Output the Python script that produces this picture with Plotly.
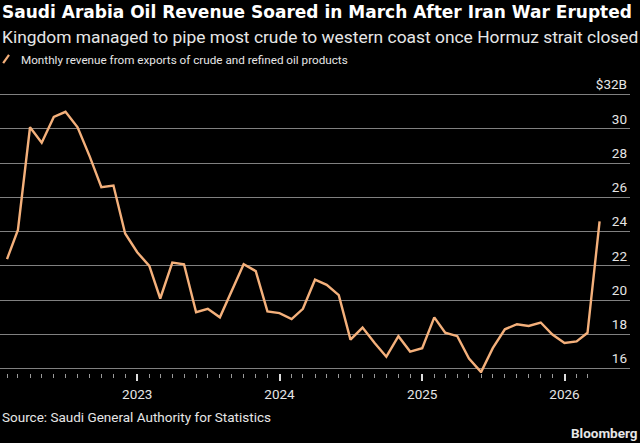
import plotly.graph_objects as go
import pandas as pd

# monthly revenue, $B, Jan 2022 .. Mar 2026
months = pd.date_range("2022-01", "2026-03", freq="MS")
revenue = [
    22.4, 24.1, 30.1, 29.2, 30.7, 31.0, 30.1, 28.4, 26.6, 26.7, 23.9, 22.8,
    22.0, 20.1, 22.2, 22.1, 19.3, 19.5, 19.0, 20.6, 22.1, 21.7, 19.35, 19.25,
    18.9, 19.5, 21.2, 20.9, 20.3, 17.7, 18.4, 17.5, 16.7, 17.9, 17.0, 17.2,
    19.0, 18.1, 17.9, 16.6, 15.8, 17.2, 18.3, 18.6, 18.5, 18.7, 18.0, 17.5,
    17.6, 18.1, 24.6,
]
y_ticks = [16, 18, 20, 22, 24, 26, 28, 30, 32]
y_labels = ["16", "18", "20", "22", "24", "26", "28", "30", "$32B"]
year_ticks = ["2023-01-01", "2024-01-01", "2025-01-01", "2026-01-01"]
year_labels = ["2023", "2024", "2025", "2026"]

# values are plotted at month end
x = months + pd.offsets.MonthBegin(1)

title = "Saudi Arabia Oil Revenue Soared in March After Iran War Erupted"
subtitle = "Kingdom managed to pipe most crude to western coast once Hormuz strait closed"
legend_text = "Monthly revenue from exports of crude and refined oil products"
source = "Source: Saudi General Authority for Statistics"

ORANGE = "#f4b07b"
GRID = "#808080"
TEXT = "#e6e6e6"

fig = go.Figure()
fig.add_trace(go.Scatter(x=x, y=revenue, mode="lines",
                         line=dict(color=ORANGE, width=2.4),
                         showlegend=False, hoverinfo="skip"))

fig.update_layout(
    width=640, height=443,
    margin=dict(l=0, r=10, t=93, b=70),
    paper_bgcolor="black", plot_bgcolor="black",
    font=dict(family="Roboto", color=TEXT, size=13),
    xaxis=dict(
        range=["2022-01-14", "2026-06-18"],
        showgrid=False, zeroline=False, showline=False,
        tickmode="array", tickvals=year_ticks, ticktext=year_labels,
        ticks="outside", ticklen=7, tickwidth=1.5, tickcolor="#dddddd",
        ticklabelstandoff=2,
        tickfont=dict(family="Roboto", size=13.5, color=TEXT),
        minor=dict(tickmode="array",
                   tickvals=list(pd.date_range("2022-02", "2026-03", freq="MS")),
                   ticks="outside", ticklen=4, tickwidth=1, tickcolor="#9a9a9a"),
    ),
    yaxis=dict(
        range=[15.75, 32.1], side="right",
        tickmode="array", tickvals=y_ticks, ticktext=y_labels,
        showgrid=True, gridcolor=GRID, gridwidth=1,
        zeroline=False, showline=False, ticks="",
        ticklabelposition="inside", ticklabelshift=-10, ticklabelstandoff=0,
        ticklabeloverflow="allow",
        tickfont=dict(family="Roboto", size=13.5, color=TEXT),
    ),
)

fig.add_annotation(text="<b>" + title + "</b>", x=0, y=1.289, xref="paper", yref="paper",
                   xanchor="left", yanchor="middle", showarrow=False,
                   font=dict(family="DejaVu Sans", size=17, color="white"))
fig.add_annotation(text=subtitle, x=0, y=1.2, xref="paper", yref="paper",
                   xanchor="left", yanchor="middle", showarrow=False,
                   font=dict(family="Roboto", size=17.4, color=TEXT))
fig.add_annotation(text=legend_text, x=0.03, y=1.118, xref="paper", yref="paper",
                   xanchor="left", yanchor="middle", showarrow=False,
                   font=dict(family="Roboto", size=11.7, color=TEXT))
fig.add_shape(type="line", xref="paper", yref="paper",
              x0=0.005, y0=1.107, x1=0.0143, y1=1.136,
              line=dict(color=ORANGE, width=2.2))
fig.add_annotation(text=source, x=0, y=-0.157, xref="paper", yref="paper",
                   xanchor="left", yanchor="middle", showarrow=False,
                   font=dict(family="Roboto", size=13.5, color=TEXT))
fig.add_annotation(text="<b>Bloomberg</b>", x=1.0159, y=-0.214, xref="paper", yref="paper",
                   xanchor="right", yanchor="middle", showarrow=False,
                   font=dict(family="Roboto", size=13.5, color=TEXT))

fig.write_html("out.html", config={"displayModeBar": False},
               post_script="document.body.style.margin='0';")
